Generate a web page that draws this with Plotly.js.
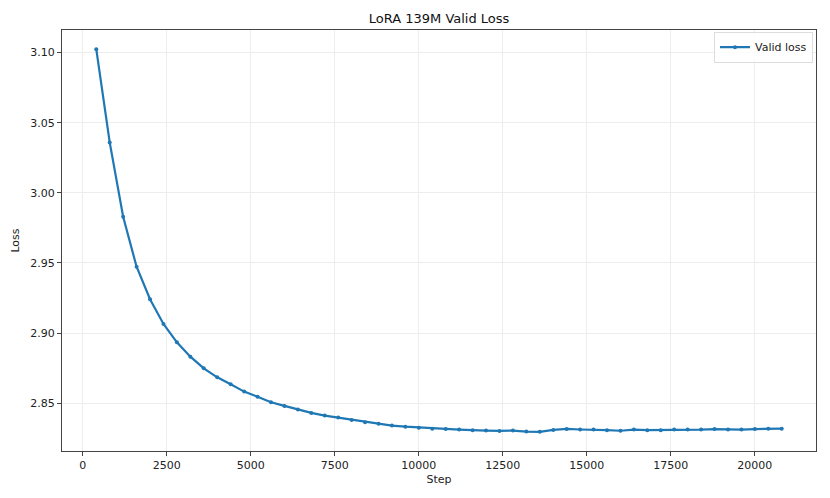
<!DOCTYPE html>
<html>
<head>
<meta charset="utf-8">
<script src="https://cdn.plot.ly/plotly-3.0.1.min.js"></script>
<style>
  html, body { margin:0; padding:0; background:#fff; }
  #chart { width:830px; height:498px; }
</style>
</head>
<body>
<div id="chart"></div>
<script>
// ═══════════════════════════════════════════
//  DATA — validation loss every 400 steps
// ═══════════════════════════════════════════
const steps = [
  400, 800, 1200, 1600, 2000, 2400, 2800, 3200, 3600, 4000,
  4400, 4800, 5200, 5600, 6000, 6400, 6800, 7200, 7600, 8000,
  8400, 8800, 9200, 9600, 10000, 10400, 10800, 11200, 11600, 12000,
  12400, 12800, 13200, 13600, 14000, 14400, 14800, 15200, 15600, 16000,
  16400, 16800, 17200, 17600, 18000, 18400, 18800, 19200, 19600, 20000,
  20400, 20800
];
const validLoss = [
  3.1024, 3.0359, 2.9829, 2.9473, 2.9241, 2.9065, 2.8934, 2.8832, 2.8749, 2.8685,
  2.8635, 2.8583, 2.8546, 2.8507, 2.8481, 2.8455, 2.8431, 2.8412, 2.8398, 2.8381,
  2.8365, 2.8353, 2.8341, 2.8333, 2.8326, 2.8319, 2.8317, 2.8312, 2.8307, 2.8305,
  2.8303, 2.8305, 2.8298, 2.8296, 2.8310, 2.8317, 2.8313, 2.8313, 2.8308, 2.8304,
  2.8312, 2.8308, 2.8308, 2.8312, 2.8312, 2.8312, 2.8316, 2.8312, 2.8312, 2.8316,
  2.8319, 2.8319
];
const xTicks = [0, 2500, 5000, 7500, 10000, 12500, 15000, 17500, 20000];
const xTickText = ['0', '2500', '5000', '7500', '10000', '12500', '15000', '17500', '20000'];
const yTicks = [2.85, 2.90, 2.95, 3.00, 3.05, 3.10];
const yTickText = ['2.85', '2.90', '2.95', '3.00', '3.05', '3.10'];

// matplotlib-like 5% autoscale margins
const pad = (lo, hi) => { const m = (hi - lo) * 0.05; return [lo - m, hi + m]; };
const xRange = pad(Math.min(...steps), Math.max(...steps));
const yRange = pad(Math.min(...validLoss), Math.max(...validLoss));

const FONT = 'DejaVu Sans, sans-serif';
const BLUE = '#1f77b4';

const axisBase = {
  showline: true, mirror: true, linecolor: '#444', linewidth: 1,
  ticks: 'outside', ticklen: 4, tickcolor: '#444', tickwidth: 1,
  showgrid: true, gridcolor: '#ededed', gridwidth: 1,
  zeroline: false,
  tickfont: { family: FONT, size: 11, color: '#222' },
};

const traces = [{
  x: steps, y: validLoss,
  type: 'scatter', mode: 'lines+markers', name: 'Valid loss',
  line: { color: BLUE, width: 2.2 },
  marker: { color: BLUE, size: 4 },
}];

Plotly.newPlot('chart', traces, {
  width: 830, height: 498,
  paper_bgcolor: '#fff', plot_bgcolor: '#fff',
  margin: { l: 62, r: 14, t: 30, b: 47 },
  font: { family: FONT, size: 11, color: '#222' },
  title: { text: 'LoRA 139M Valid Loss', x: 0.529, xanchor: 'center', y: 0.963, yanchor: 'middle',
           font: { family: FONT, size: 13, color: '#111' } },
  xaxis: { ...axisBase, range: xRange, tickvals: xTicks, ticktext: xTickText,
           title: { text: 'Step', standoff: 4, font: { family: FONT, size: 11, color: '#222' } } },
  yaxis: { ...axisBase, range: yRange, tickvals: yTicks, ticktext: yTickText,
           title: { text: 'Loss', standoff: 8, font: { family: FONT, size: 11, color: '#222' } } },
  showlegend: true,
  legend: {
    x: 0.996, y: 0.996, xanchor: 'right', yanchor: 'top',
    bgcolor: 'rgba(255,255,255,0.8)', bordercolor: '#ddd', borderwidth: 1,
    font: { family: FONT, size: 11, color: '#222' },
    itemwidth: 30,
  },
}, { displayModeBar: false, staticPlot: true });
</script>
</body>
</html>
